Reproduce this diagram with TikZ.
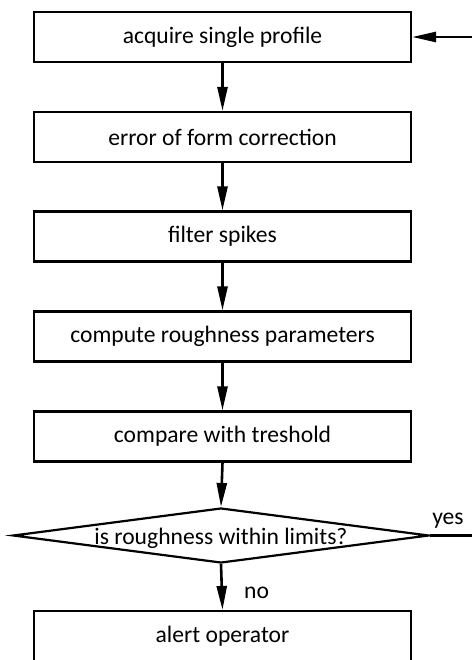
\documentclass[tikz,border=0pt]{standalone}
\usepackage{fontspec}
\setmainfont{Carlito}
\usetikzlibrary{arrows.meta,shapes.geometric}
\begin{document}
\begin{tikzpicture}[x=1pt,y=-1pt,
  font=\fontsize{23.6}{28}\selectfont,
  stepbox/.style={draw,line width=2.2pt,minimum width=377pt,minimum height=50pt,inner sep=0pt},
  decbox/.style={draw,diamond,line width=2.2pt,minimum width=416pt,minimum height=55pt,inner sep=0pt},
  flow/.style={line width=2.6pt,-{Triangle[length=24pt,width=10pt]}},
  plain/.style={line width=2.6pt},
  lbl/.style={inner sep=0pt}]
\useasboundingbox (0,0) rectangle (471,660);

\node[stepbox] (acq)  at (222.5,37)    {acquire single profile};
\node[stepbox] (form) at (222.5,137)   {error of form correction};
\node[stepbox] (filt) at (222.5,236.5) {filter spikes};
\node[stepbox] (rough) at (222.5,336.5) {compute roughness parameters};
\node[stepbox] (comp) at (222.5,436.5) {compare with treshold};
\node[decbox]  (dec)  at (221,535.5) {};
\node[lbl]     (dectext) at (221,538) {is roughness within limits?};
\node[stepbox] (alert) at (222.5,636) {alert operator};

\draw[flow] (acq) -- (form);
\draw[flow] (form) -- (filt);
\draw[flow] (filt) -- (rough);
\draw[flow] (rough) -- (comp);
\draw[flow] (comp.south) -- (dec.north);
\draw[flow] (dec.south) -- (alert.north);
\node[lbl,anchor=base west] (no) at (244,598) {no};

% loop back: leaves the page on the right and returns to the first step
\coordinate (turn) at (490,535.5);
\draw[plain] (dec.east) -- (turn);
\node[lbl,anchor=base] (yes) at (448,524) {yes};
\draw[flow] (turn) |- (acq.east);
\end{tikzpicture}
\end{document}
